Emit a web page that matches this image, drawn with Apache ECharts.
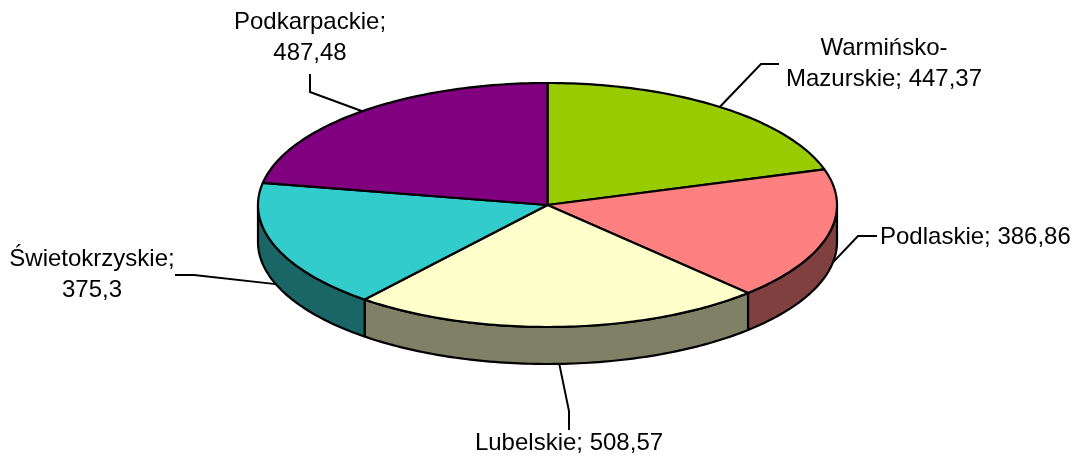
<!DOCTYPE html>
<html>
<head>
<meta charset="utf-8">
<script src="https://cdn.jsdelivr.net/npm/echarts@6/dist/echarts.min.js"></script>
<style>
  html, body { margin: 0; padding: 0; background: #fff; }
  #main { width: 1072px; height: 456px; }
</style>
</head>
<body>
<div id="main"></div>
<script>
// dane
const regions = ['Warmińsko-Mazurskie', 'Podlaskie', 'Lubelskie', 'Świetokrzyskie', 'Podkarpackie'];
const values = [447.37, 386.86, 508.57, 375.3, 487.48];
const colors = ['#99CC00', '#FF8080', '#FFFFCC', '#33CCCC', '#800080'];

// where each label goes (text point, elbow, end of leader), wrap = where the line breaks
const labelLayout = [
  { x: 884, y: 64, align: 'center', wrap: '-', elbow: [761, 64], end: [779, 64], dAngle: 0 },
  { x: 880, y: 237, align: 'left', wrap: null, elbow: [858, 236], end: [877, 236], dAngle: -5 },
  { x: 569, y: 443, align: 'center', wrap: null, elbow: [569, 411], end: [569, 430], dAngle: 0 },
  { x: 92, y: 275, align: 'center', wrap: ';', elbow: [194, 275], end: [175, 275], dAngle: 0 },
  { x: 310, y: 38, align: 'center', wrap: ';', elbow: [310, 92], end: [310, 74], dAngle: 0 }
];

// pie geometry (squashed circle + thickness)
const cx = 547.5, cy = 205, rx = 289.5, ry = 122, depth = 37;

const total = values.reduce((a, b) => a + b, 0);

function pt(deg, dy) {
  const r = deg * Math.PI / 180;
  return [cx + rx * Math.sin(r), cy - ry * Math.cos(r) + (dy || 0)];
}

function arc(a, b, dy) {
  const pts = [];
  const n = Math.max(2, Math.ceil(Math.abs(b - a)));
  for (let k = 0; k <= n; k++) pts.push(pt(a + (b - a) * k / n, dy));
  return pts;
}

function darker(hex) {
  const n = parseInt(hex.slice(1), 16);
  const r = Math.round(((n >> 16) & 255) / 2), g = Math.round(((n >> 8) & 255) / 2), b = Math.round((n & 255) / 2);
  return 'rgb(' + r + ',' + g + ',' + b + ')';
}

function fmt(i) {
  let t = regions[i] + '; ' + String(values[i]).replace('.', ',');
  const w = labelLayout[i].wrap;
  if (w === '-') t = t.replace('-', '-\n');
  if (w === ';') t = t.replace('; ', ';\n');
  return t;
}

function renderItem(params, api) {
  const i = params.dataIndex;
  let before = 0;
  for (let k = 0; k < i; k++) before += values[k];
  const a = before / total * 360;
  const b = (before + values[i]) / total * 360;
  const children = [];

  // side (only the front half is visible)
  const s = Math.max(a, 90), e = Math.min(b, 270);
  if (s < e) {
    children.push({
      type: 'polygon',
      z2: 1,
      shape: { points: arc(s, e, 0).concat(arc(e, s, depth)) },
      style: { fill: darker(colors[i]), stroke: '#000', lineWidth: 2.2, lineJoin: 'round' }
    });
  }

  // top
  children.push({
    type: 'polygon',
    z2: 10,
    shape: { points: [[cx, cy]].concat(arc(a, b, 0)) },
    style: { fill: colors[i], stroke: '#000', lineWidth: 2.2, lineJoin: 'round' }
  });

  // label + leader
  const L = labelLayout[i];
  const mid = (a + b) / 2 + L.dAngle;
  const onSide = mid > 90 && mid < 270;
  const anchor = pt(mid, onSide ? depth : 0);
  children.push({
    type: 'polyline',
    z2: 20,
    shape: { points: [anchor, L.elbow, L.end] },
    style: { stroke: '#000', lineWidth: 2, fill: null }
  });
  children.push({
    type: 'text',
    z2: 20,
    style: {
      text: fmt(i),
      x: L.x,
      y: L.y,
      align: L.align,
      verticalAlign: 'middle',
      fill: '#000',
      font: '24px "Liberation Sans", Arial, sans-serif',
      lineHeight: 31
    }
  });

  return { type: 'group', children: children };
}

const chart = echarts.init(document.getElementById('main'));
chart.setOption({
  animation: false,
  backgroundColor: '#fff',
  series: [{
    type: 'custom',
    coordinateSystem: 'none',
    silent: true,
    renderItem: renderItem,
    data: values.map((v, i) => ({ name: regions[i], value: v }))
  }]
});
window.addEventListener('resize', () => chart.resize());
</script>
</body>
</html>
